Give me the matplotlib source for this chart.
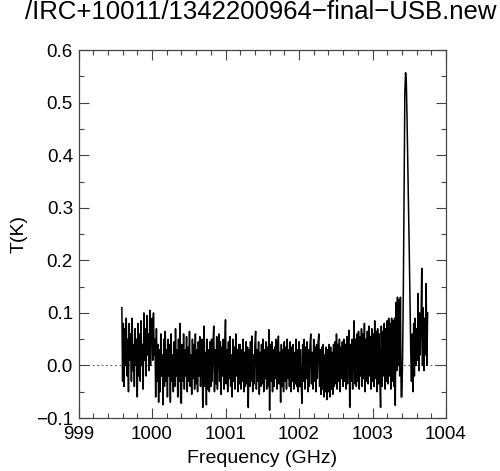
import numpy as np
import matplotlib
matplotlib.use("Agg")
import matplotlib.pyplot as plt
from matplotlib.ticker import MultipleLocator

plt.rcParams['font.family'] = ['Liberation Sans', 'DejaVu Sans']

title = "/IRC+10011/1342200964\u2212final\u2212USB.new"
x_label = "Frequency (GHz)"
y_label = "T(K)"

freq_start = 999.59
freq_step = 0.01

seg_a = [0.11, -0.03, 0.08, -0.04, 0.07, 0.00, 0.09, -0.02, 0.05, -0.05, 0.08, 0.01, 0.06, -0.03,
         0.09, -0.01, 0.04, -0.04, 0.07, 0.00, 0.05, -0.06, 0.08, -0.02, 0.06, -0.03, 0.085, 0.00,
         0.04, -0.045, 0.10, 0.01, 0.07, -0.02, 0.095, 0.02, 0.06, -0.01, 0.105, 0.00, 0.08]
seg_b = [0.09, 0.01, 0.10, 0.02, 0.05, -0.06, 0.07, -0.03, 0.04, -0.07, 0.03, -0.05, 0.06, -0.02,
         0.02, -0.075, 0.05, -0.04, 0.065, -0.03, 0.03, -0.06, 0.05, -0.02, 0.04, -0.07, 0.06, -0.03,
         0.02, -0.05, 0.045, -0.04, 0.07, -0.02, 0.03, -0.06, 0.05, -0.03, 0.08, -0.07]
seg_c = [-0.072, 0.04, -0.03, 0.06, -0.045, 0.03, -0.02, 0.055, -0.05, 0.035, -0.03, 0.065, -0.04,
         0.02, -0.055, 0.05, -0.025, 0.04, -0.045, 0.06, -0.035, 0.03, -0.05, 0.045, -0.02, 0.055,
         -0.04, 0.035, 0.05, -0.08, 0.03, 0.075, -0.04, 0.025, -0.075, 0.05, -0.045, 0.03, -0.05, 0.045]
seg_d = [-0.04, 0.05, -0.03, 0.04, 0.075, -0.05, 0.03, -0.035, 0.055, -0.045, 0.02, 0.06, -0.03,
         0.045, -0.055, 0.035, -0.02, 0.05, -0.045, 0.04, 0.087, -0.035, 0.03, -0.05, 0.045, -0.025,
         0.055, -0.04, 0.02, -0.06, 0.05, -0.03, 0.035, -0.045, 0.06, -0.02, 0.03, -0.05, 0.04, -0.035]
seg_e = [0.04, -0.045, 0.03, -0.03, 0.05, -0.05, 0.025, -0.04, 0.045, -0.035, 0.035, -0.08, 0.03,
         -0.04, 0.045, -0.03, 0.056, -0.05, 0.02, -0.035, 0.04, 0.065, -0.045, 0.03, -0.03, 0.045,
         -0.055, 0.025, -0.04, 0.04, -0.035, 0.05, -0.05, 0.03, -0.025, 0.045, -0.045, 0.035, -0.04, 0.068]
seg_f = [-0.085, 0.04, -0.03, 0.045, -0.05, 0.03, -0.04, 0.035, -0.025, 0.05, -0.045, 0.03, 0.056,
         -0.035, 0.025, -0.07, 0.04, -0.04, 0.03, -0.05, 0.045, -0.03, 0.035, -0.045, 0.05, -0.025,
         0.03, -0.04, 0.045, -0.05, 0.035, -0.03, 0.04, -0.045, 0.025, -0.035, 0.05, -0.04, 0.03, -0.05]
seg_g = [0.045, -0.04, 0.03, -0.035, -0.072, 0.04, -0.03, 0.05, -0.045, 0.035, -0.025, 0.045, -0.05,
         0.03, -0.04, 0.04, 0.06, -0.035, 0.025, -0.045, 0.05, -0.03, 0.035, -0.05, 0.04, -0.025,
         0.045, 0.06, -0.04, 0.03, -0.055, 0.035, -0.045, 0.04, -0.06, 0.02, -0.05, 0.035, -0.065, 0.03]
seg_h = [-0.05, 0.04, -0.06, 0.035, -0.045, 0.025, -0.055, 0.04, -0.04, 0.045, -0.035, 0.06, -0.045,
         0.04, -0.03, 0.05, -0.05, 0.035, -0.025, 0.045, -0.04, 0.05, -0.03, 0.04, -0.045, 0.055,
         -0.035, 0.045, 0.067, -0.08, 0.04, -0.03, 0.05, -0.045, 0.035, 0.085, -0.035, 0.05, -0.04, 0.06]
seg_i = [-0.03, 0.065, -0.045, 0.055, -0.02, 0.07, -0.04, 0.06, -0.025, 0.08, -0.05, 0.05, -0.03,
         0.065, -0.035, 0.075, -0.02, 0.055, -0.045, 0.07, -0.03, 0.06, -0.04, 0.085, -0.025, 0.065,
         -0.05, 0.07, -0.035, 0.06, -0.03, -0.08, 0.075, -0.04, 0.065, -0.02, 0.08, -0.045, 0.07, -0.03]
seg_j = [0.085, -0.035, 0.09, -0.02, 0.08, -0.045, 0.09, -0.03, 0.085, -0.04, 0.09, -0.076, 0.12,
         -0.01, 0.13, 0.0, 0.125, -0.02, 0.13, -0.06]
seg_peak = [-0.06, 0.02, 0.15, 0.33, 0.52, 0.557, 0.54, 0.47, 0.38, 0.30, 0.22, 0.12, 0.03, -0.03,
            0.06, -0.05]
seg_tail = [0.08, -0.02, 0.09, 0.0, 0.07, 0.01, 0.137, -0.01, 0.1, 0.02, 0.08, 0.185, 0.0, 0.11,
            -0.01, 0.09, 0.02, 0.156, 0.0, 0.1]

temps = np.array(seg_a + seg_b + seg_c + seg_d + seg_e + seg_f + seg_g + seg_h + seg_i + seg_j
                 + seg_peak + seg_tail)
freqs = freq_start + freq_step * np.arange(len(temps))

fig = plt.figure(figsize=(5.0, 4.71), dpi=100)
ax = fig.add_axes([0.157, 0.1125, 0.735, 0.781])

ax.axhline(0.0, color='#555555', lw=0.8, ls=(0, (1.5, 2.5)), zorder=1)
ax.plot(freqs, temps, color='black', lw=1.1, zorder=2)

ax.set_xlim(999, 1004)
ax.set_ylim(-0.1, 0.6)
ax.xaxis.set_major_locator(MultipleLocator(1))
ax.xaxis.set_minor_locator(MultipleLocator(0.2))
ax.yaxis.set_major_locator(MultipleLocator(0.1))
ax.yaxis.set_minor_locator(MultipleLocator(0.05))
ax.yaxis.set_major_formatter(plt.FuncFormatter(lambda v, p: f"{v:.1f}".replace('-', '\u2212')))
ax.xaxis.set_major_formatter(plt.FuncFormatter(lambda v, p: f"{v:.0f}"))

ax.tick_params(which='both', direction='in', top=True, right=True, colors='#444444',
               labelcolor='black', labelsize=13.5, width=0.8)
ax.tick_params(which='major', length=7)
ax.tick_params(axis='x', which='major', pad=6)
ax.tick_params(axis='y', which='major', pad=4)
ax.tick_params(which='minor', length=3.5)
for s in ax.spines.values():
    s.set_linewidth(0.9)
    s.set_color('#444444')

ax.set_xlabel(x_label, fontsize=14, labelpad=5)
ax.set_ylabel(y_label, fontsize=14, labelpad=6)
fig.text(0.522, 0.999, title, ha='center', va='top', fontsize=18.5)

fig.savefig("out.png", dpi=100)
